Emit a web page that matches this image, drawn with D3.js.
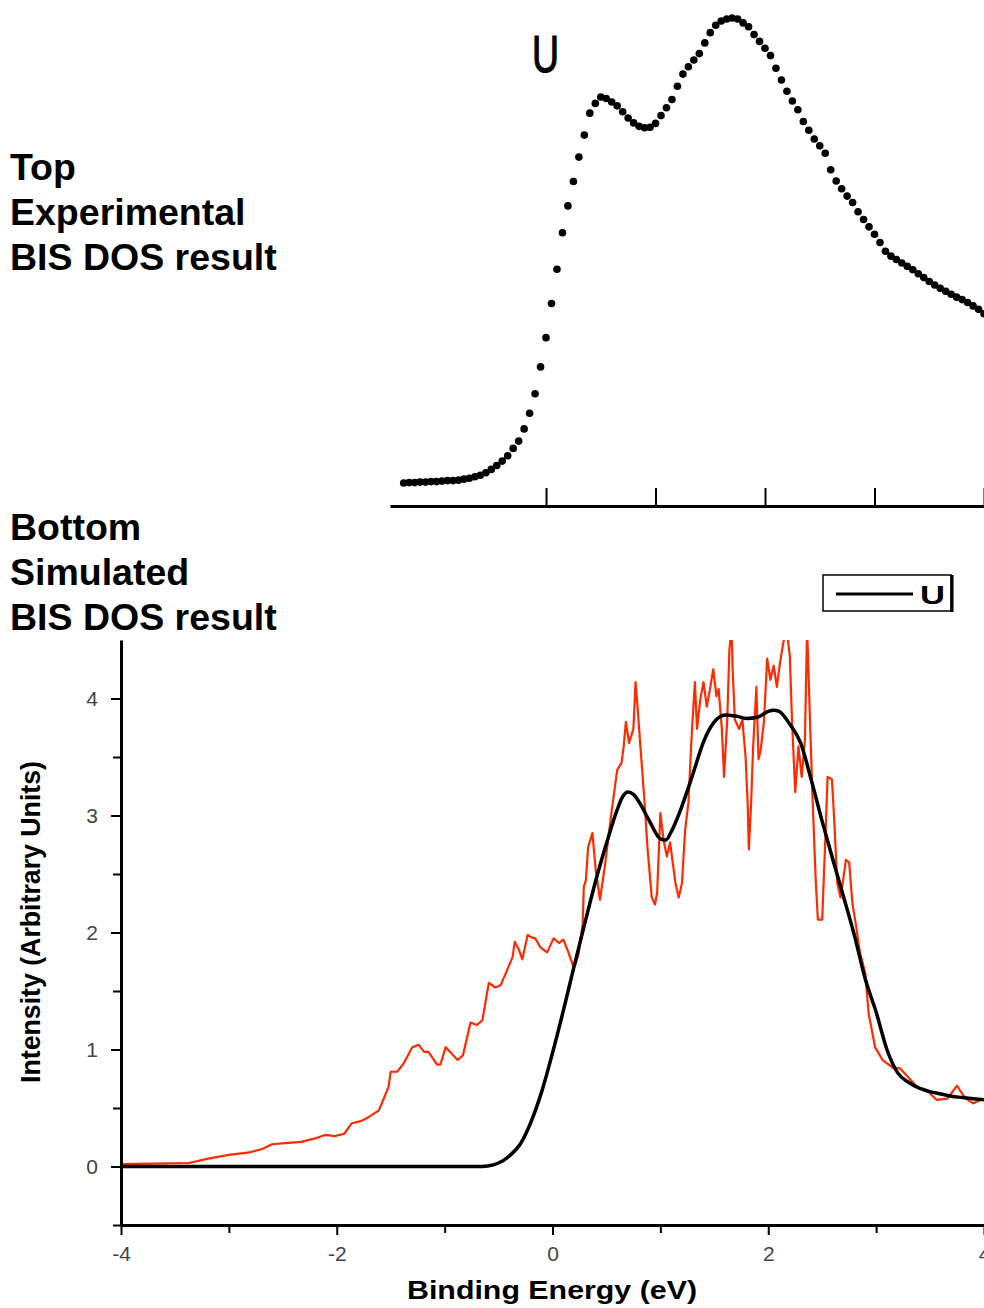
<!DOCTYPE html>
<html>
<head>
<meta charset="utf-8">
<script src="https://cdn.jsdelivr.net/npm/d3@7"></script>
<style>
  html, body { margin: 0; padding: 0; background: #fff; }
  svg { display: block; font-family: "Liberation Sans", Arial, sans-serif; }
</style>
</head>
<body>
<script>
// ---------------- DATA ----------------
// Top panel: experimental BIS spectrum (energy in eV, intensity in arbitrary units, peak = 100)
const expEnergy = [
  -1.30,-1.25,-1.20,-1.15,-1.10,-1.05,-1.00,-0.95,-0.90,-0.85,-0.80,-0.75,-0.70,-0.65,-0.60,-0.55,-0.50,-0.45,-0.40,-0.35,
  -0.30,-0.25,-0.20,-0.15,-0.10,-0.05,0.00,0.05,0.10,0.15,0.20,0.25,0.30,0.35,0.40,0.45,0.50,0.55,0.60,0.65,
  0.70,0.75,0.80,0.85,0.90,0.95,1.00,1.05,1.10,1.15,1.20,1.25,1.30,1.35,1.40,1.45,1.50,1.55,1.60,1.65,
  1.70,1.75,1.80,1.85,1.90,1.95,2.00,2.05,2.10,2.15,2.20,2.25,2.30,2.35,2.40,2.45,2.50,2.55,2.60,2.65,
  2.70,2.75,2.80,2.85,2.90,2.95,3.00,3.05,3.10,3.15,3.20,3.25,3.30,3.35,3.40,3.45,3.50,3.55,3.60,3.65,
  3.70,3.75,3.80,3.85,3.90,3.95,4.00
];
const expIntensity = [
  4.7,4.8,4.8,4.9,4.9,5.0,5.0,5.1,5.2,5.2,5.3,5.5,5.7,6.0,6.3,6.8,7.5,8.3,9.2,10.3,
  11.8,13.3,15.8,19.0,23.0,28.5,34.5,41.5,48.5,56.0,61.5,66.5,71.5,76.0,80.5,82.5,83.8,83.5,82.8,82.0,
  80.8,79.5,78.5,77.8,77.5,77.6,78.4,80.0,81.6,83.3,86.0,88.5,90.0,91.4,92.7,94.9,97.0,98.5,99.4,99.8,
  100,99.8,99.0,98.2,96.6,95.2,93.8,92.3,89.7,87.3,85.0,83.0,81.2,78.8,77.0,75.2,73.8,72.3,68.9,66.6,
  65.0,63.5,62.2,60.3,58.7,57.2,55.7,54.0,52.2,51.2,50.5,49.8,49.1,48.4,47.6,46.8,46.0,45.3,44.6,44.0,
  43.4,42.8,42.3,41.7,41.0,40.3,39.4
];
const topTicks = [0, 1, 2, 3, 4];

// Bottom panel: simulated BIS DOS, broadened (black) and raw (red)
const simBroadE = [-4.0,-3.0,-2.0,-1.0,-0.7,-0.6,-0.5,-0.4,-0.3,-0.2,-0.1,0.0,0.1,0.2,0.3,0.4,0.5,0.6,0.65,0.7,
  0.75,0.8,0.9,1.0,1.05,1.1,1.2,1.3,1.4,1.5,1.6,1.7,1.8,1.9,2.0,2.05,2.1,2.2,2.3,2.4,
  2.5,2.6,2.7,2.8,2.9,3.0,3.1,3.2,3.3,3.4,3.5,3.6,3.7,3.8,3.9,4.0];
const simBroadV = [0,0,0,0,0,0.005,0.03,0.09,0.19,0.38,0.64,0.97,1.33,1.71,2.08,2.44,2.76,3.05,3.16,3.2,
  3.18,3.12,2.95,2.8,2.79,2.86,3.08,3.35,3.63,3.8,3.86,3.85,3.83,3.84,3.89,3.9,3.89,3.78,3.62,3.3,
  2.95,2.62,2.3,1.97,1.6,1.32,1.0,0.8,0.72,0.67,0.64,0.62,0.6,0.59,0.58,0.57];

const simRawE = [-4.0,-3.56,-3.37,-3.18,-3.0,-2.81,-2.69,-2.6,-2.48,-2.33,-2.2,-2.11,-2.02,-1.93,-1.86,-1.77,-1.69,-1.61,-1.56,-1.52,
  -1.5,-1.44,-1.38,-1.3,-1.24,-1.19,-1.15,-1.07,-1.04,-0.99,-0.94,-0.88,-0.83,-0.76,-0.7,-0.65,-0.59,-0.53,-0.48,-0.42,
  -0.37,-0.35,-0.31,-0.28,-0.23,-0.2,-0.16,-0.11,-0.05,0.01,0.06,0.1,0.14,0.19,0.21,0.24,0.28,0.29,0.31,0.33,
  0.37,0.4,0.44,0.49,0.55,0.6,0.64,0.66,0.68,0.71,0.75,0.77,0.79,0.81,0.85,0.88,0.92,0.95,0.97,1.0,
  1.03,1.06,1.09,1.14,1.17,1.2,1.23,1.26,1.29,1.32,1.34,1.37,1.4,1.43,1.46,1.49,1.52,1.54,1.57,1.59,
  1.62,1.64,1.66,1.67,1.69,1.73,1.76,1.79,1.81,1.82,1.84,1.86,1.89,1.91,1.93,1.96,1.99,2.02,2.05,2.08,
  2.11,2.14,2.17,2.2,2.22,2.25,2.28,2.31,2.34,2.36,2.38,2.41,2.44,2.46,2.5,2.53,2.55,2.59,2.61,2.64,
  2.67,2.69,2.72,2.75,2.78,2.81,2.85,2.9,2.93,2.99,3.06,3.16,3.22,3.3,3.38,3.47,3.56,3.66,3.75,3.82,
  3.9,4.0];
const simRawV = [0.02,0.026,0.03,0.07,0.1,0.12,0.15,0.19,0.2,0.21,0.24,0.27,0.26,0.28,0.37,0.39,0.43,0.48,0.59,0.68,
  0.81,0.81,0.88,1.02,1.04,0.98,0.98,0.87,0.87,1.02,0.97,0.91,0.95,1.23,1.21,1.25,1.57,1.53,1.55,1.68,
  1.79,1.92,1.85,1.77,1.98,1.96,1.95,1.87,1.83,1.95,1.91,1.94,1.85,1.72,1.72,1.81,2.08,2.39,2.45,2.73,
  2.85,2.54,2.28,2.6,3.05,3.39,3.45,3.59,3.8,3.62,3.74,4.14,3.91,3.65,3.16,2.73,2.3,2.24,2.34,3.02,
  2.79,2.65,2.77,2.42,2.3,2.42,2.88,3.11,3.68,4.14,3.74,3.99,4.14,3.93,4.08,4.25,4.02,4.08,3.74,3.33,
  3.82,4.42,4.6,4.25,3.82,3.74,3.82,3.5,3.08,2.71,3.08,3.59,4.1,3.48,3.56,3.8,4.34,4.16,4.28,4.1,
  4.31,4.48,4.6,4.36,3.82,3.2,3.59,3.33,3.65,4.6,4.02,3.16,2.45,2.11,2.11,2.82,3.33,3.31,2.99,2.42,
  2.3,2.42,2.62,2.6,2.25,2.08,1.83,1.65,1.31,1.02,0.91,0.84,0.84,0.76,0.68,0.65,0.57,0.58,0.69,0.59,
  0.54,0.58];

const yMajorTicks = [0, 1, 2, 3, 4];
const yMinorTicks = [-0.5, 0.5, 1.5, 2.5, 3.5];
const xMajorTicks = [-4, -2, 0, 2, 4];
const xMinorTicks = [-3, -1, 1, 3];
const legendLabel = "U";
const topLabel = "U";
const xTitle = "Binding Energy (eV)";
const yTitle = "Intensity (Arbitrary Units)";
const topText = ["Top", "Experimental", "BIS DOS result"];
const bottomText = ["Bottom", "Simulated", "BIS DOS result"];

// ---------------- DRAW ----------------
const W = 984, H = 1308;
const svg = d3.select("body").append("svg").attr("width", W).attr("height", H);
svg.append("rect").attr("width", W).attr("height", H).attr("fill", "#fff");

// Left descriptive text
const tt = svg.append("g").attr("font-weight", "bold").attr("font-size", 37.5).attr("fill", "#000");
topText.forEach((t, i) => tt.append("text").attr("x", 10).attr("y", 180 + i * 45).text(t));
bottomText.forEach((t, i) => tt.append("text").attr("x", 10).attr("y", 540 + i * 45).text(t));

// ---- Top panel ----
const xT = d3.scaleLinear().domain([-1.425, 4]).range([390, 984]);
const yT = d3.scaleLinear().domain([0, 100]).range([506, 18]);

const topAxis = svg.append("g").attr("transform", "translate(0,506)")
  .call(d3.axisTop(xT).tickValues(topTicks).tickSize(18).tickSizeOuter(0).tickFormat(""));
topAxis.select(".domain").attr("stroke", "#000").attr("stroke-width", 3);
topAxis.selectAll(".tick line").attr("stroke", "#000").attr("stroke-width", 2);

svg.append("g").selectAll("circle")
  .data(expEnergy.map((e, i) => [e, expIntensity[i]]))
  .join("circle")
  .attr("cx", d => xT(d[0]))
  .attr("cy", d => yT(d[1]))
  .attr("r", 3.8)
  .attr("fill", "#000");

svg.append("text").attr("x", 532).attr("y", 72)
  .attr("font-size", 52).attr("fill", "#000").attr("stroke", "#000").attr("stroke-width", 1.2)
  .attr("textLength", 27).attr("lengthAdjust", "spacingAndGlyphs")
  .text(topLabel);

// ---- Bottom panel ----
const x = d3.scaleLinear().domain([-4, 4]).range([121, 984]);
const y = d3.scaleLinear().domain([-0.5, 4.5]).range([1225, 640]);

svg.append("clipPath").attr("id", "plotclip")
  .append("rect").attr("x", 121).attr("y", 640).attr("width", 863).attr("height", 585);

const plot = svg.append("g").attr("clip-path", "url(#plotclip)");

const redLine = d3.line().x(d => x(d[0])).y(d => y(d[1]));
plot.append("path")
  .datum(simRawE.map((e, i) => [e, simRawV[i]]))
  .attr("d", redLine)
  .attr("fill", "none").attr("stroke", "#ff2a00").attr("stroke-width", 2.2)
  .attr("stroke-linejoin", "round");

const blackLine = d3.line().x(d => x(d[0])).y(d => y(d[1])).curve(d3.curveMonotoneX);
plot.append("path")
  .datum(simBroadE.map((e, i) => [e, simBroadV[i]]))
  .attr("d", blackLine)
  .attr("fill", "none").attr("stroke", "#000").attr("stroke-width", 3.5)
  .attr("stroke-linejoin", "round");

// Axes
const yAxisMinor = svg.append("g").attr("transform", "translate(121,0)")
  .call(d3.axisLeft(y).tickValues(yMinorTicks).tickSize(8).tickSizeOuter(0).tickFormat(""));
yAxisMinor.select(".domain").remove();
const yAxis = svg.append("g").attr("transform", "translate(121,0)")
  .call(d3.axisLeft(y).tickValues(yMajorTicks).tickSize(10).tickSizeOuter(0).tickPadding(13)
    .tickFormat(d3.format("d")));
const xAxisMinor = svg.append("g").attr("transform", "translate(0,1225)")
  .call(d3.axisBottom(x).tickValues(xMinorTicks).tickSize(8).tickSizeOuter(0).tickFormat(""));
xAxisMinor.select(".domain").remove();
const xAxis = svg.append("g").attr("transform", "translate(0,1225)")
  .call(d3.axisBottom(x).tickValues(xMajorTicks).tickSize(10).tickSizeOuter(0).tickPadding(11)
    .tickFormat(d => d < 0 ? "-" + Math.abs(d) : String(d)));

[yAxis, xAxis].forEach(a => {
  a.select(".domain").attr("stroke", "#000").attr("stroke-width", 3);
  a.selectAll("text").attr("font-size", 21).attr("fill", "#444")
    .attr("font-family", "'Liberation Sans', Arial, sans-serif");
});
[yAxis, xAxis, yAxisMinor, xAxisMinor].forEach(a => a.selectAll(".tick line").attr("stroke", "#000").attr("stroke-width", 2));

// Axis titles
svg.append("text").attr("x", 552).attr("y", 1299).attr("text-anchor", "middle")
  .attr("font-weight", "bold").attr("font-size", 26).attr("fill", "#000")
  .attr("textLength", 290).attr("lengthAdjust", "spacingAndGlyphs")
  .text(xTitle);
svg.append("text").attr("transform", "translate(40,922) rotate(-90)").attr("text-anchor", "middle")
  .attr("font-weight", "bold").attr("font-size", 28).attr("fill", "#000")
  .attr("textLength", 322).attr("lengthAdjust", "spacingAndGlyphs")
  .text(yTitle);

// Legend
const lg = svg.append("g");
lg.append("rect").attr("x", 823).attr("y", 575).attr("width", 128).attr("height", 36)
  .attr("fill", "#fff").attr("stroke", "#000").attr("stroke-width", 1.5);
lg.append("line").attr("x1", 952).attr("x2", 952).attr("y1", 575).attr("y2", 612)
  .attr("stroke", "#000").attr("stroke-width", 3);
lg.append("line").attr("x1", 836).attr("x2", 913).attr("y1", 594).attr("y2", 594)
  .attr("stroke", "#000").attr("stroke-width", 3);
lg.append("text").attr("x", 920).attr("y", 604)
  .attr("font-weight", "bold").attr("font-size", 26).attr("fill", "#000")
  .attr("textLength", 25).attr("lengthAdjust", "spacingAndGlyphs")
  .text(legendLabel);
</script>
</body>
</html>
